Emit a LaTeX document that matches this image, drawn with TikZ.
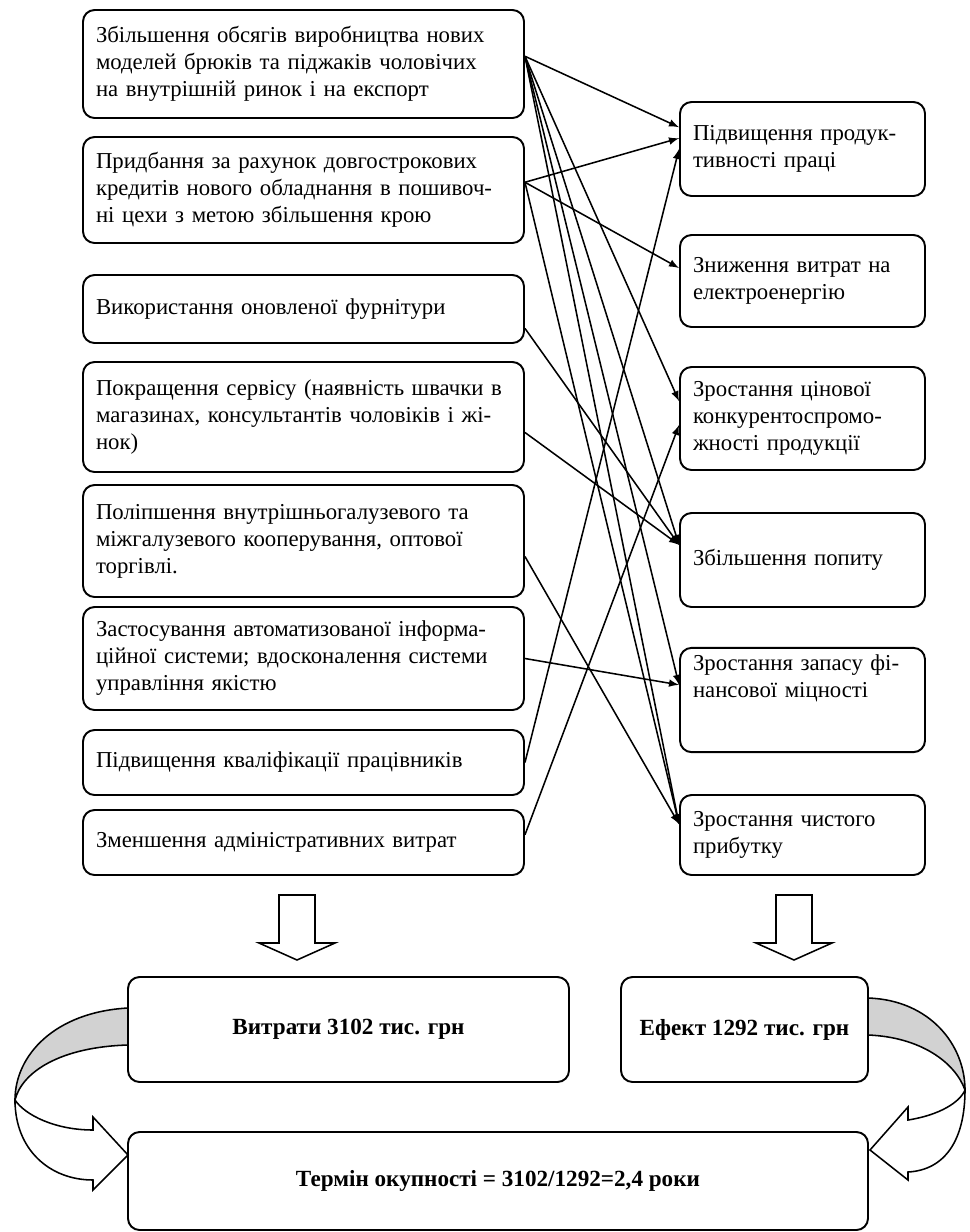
\documentclass[tikz,border=0pt]{standalone}
\usepackage{fontspec}
\setmainfont{Liberation Serif}
\usetikzlibrary{positioning}
\newcommand{\pxl}{0.01822cm}

\tikzset{
  factor/.style={draw, line width=1pt, rounded corners=6pt, align=left,
    inner xsep=13*\pxl, font=\fontsize{11.8}{14}\selectfont},
  leftbox/.style={factor, text width=415*\pxl},
  rightbox/.style={factor, text width=219*\pxl},
  sumbox/.style={draw, line width=1pt, rounded corners=6pt,
    font=\fontsize{12}{14}\selectfont\bfseries},
  conn/.style={->, >=latex, line width=0.8pt},
  hollow/.style={draw, line width=0.8pt, fill=white},
}

\begin{document}
\begin{tikzpicture}[x=\pxl, y=-\pxl]
  \useasboundingbox (0,0) rectangle (969,1232);

  % measures (left column)
  \node[leftbox, minimum height=108*\pxl] (L1) at (303.5,64)
    {Збільшення обсягів виробництва нових\\ моделей брюків та піджаків чоловічих\\ на внутрішній ринок і на експорт};
  \node[leftbox, minimum height=106*\pxl] (L2) at (303.5,190)
    {Придбання за рахунок довгострокових\\ кредитів нового обладнання в пошивоч-\\ні цехи з метою збільшення крою};
  \node[leftbox, minimum height=68*\pxl] (L3) at (303.5,309)
    {Використання оновленої фурнітури};
  \node[leftbox, minimum height=110*\pxl] (L4) at (303.5,417)
    {Покращення сервісу (наявність швачки в\\ магазинах, консультантів чоловіків і жі-\\нок)};
  \node[leftbox, minimum height=112*\pxl] (L5) at (303.5,541)
    {Поліпшення внутрішньогалузевого та\\ міжгалузевого кооперування, оптової\\ торгівлі.};
  \node[leftbox, minimum height=103*\pxl] (L6) at (303.5,658.5)
    {Застосування автоматизованої інформа-\\ційної системи; вдосконалення системи\\ управління якістю};
  \node[leftbox, minimum height=65*\pxl] (L7) at (303.5,762.5)
    {Підвищення кваліфікації працівників};
  \node[leftbox, minimum height=65*\pxl] (L8) at (303.5,842.5)
    {Зменшення адміністративних витрат};

  % results (right column)
  \node[rightbox, minimum height=94*\pxl] (R1) at (802.5,149)
    {Підвищення продук-\\тивності праці};
  \node[rightbox, minimum height=92*\pxl] (R2) at (802.5,281)
    {Зниження витрат на\\ електроенергію};
  \node[rightbox, minimum height=103*\pxl] (R3) at (802.5,418.5)
    {Зростання цінової\\ конкурентоспромо-\\жності продукції};
  \node[rightbox, minimum height=94*\pxl] (R4) at (802.5,560)
    {Збільшення попиту};
  \node[rightbox, minimum height=104*\pxl] (R5) at (802.5,700)
    {Зростання запасу фі-\\нансової міцності\\[7pt]\strut};
  \node[rightbox, minimum height=80*\pxl] (R6) at (802.5,835)
    {Зростання чистого\\ прибутку};

  % links
  \draw[conn] (L1.2) -- (R1.170);
  \draw[conn] (L1.2) -- (R3.172);
  \draw[conn] (L1.2) -- (R4.173);
  \draw[conn] (L1.2) -- (R5.173);
  \draw[conn] (L1.2) -- (R6.175);
  \draw[conn] (L2.2) -- (R1.175);
  \draw[conn] (L2.2) -- (R2.174);
  \draw[conn] (L2.2) -- (R6.175);
  \draw[conn] (L3.355) -- (R4.173);
  \draw[conn] (L4.356) -- (R4.173);
  \draw[conn] (L5.356) -- (R6.175);
  \draw[conn] (L6.east) -- (R5.173);
  \draw[conn] (L7.east) -- (R1.180);
  \draw[conn] (L8.2.5) -- (R3.183);

  % totals
  \node[sumbox, minimum width=441*\pxl, minimum height=105*\pxl] (cost) at (348.5,1029.5)
    {Витрати 3102 тис. грн};
  \node[sumbox, minimum width=247*\pxl, minimum height=105*\pxl] (gain) at (744.5,1029.5)
    {Ефект 1292 тис. грн};
  \node[sumbox, minimum width=740*\pxl, minimum height=98*\pxl] (payback) at (498,1181)
    {Термін окупності = 3102/1292=2,4 роки};

  % hollow arrows down
  \draw[hollow] (279,895) -- (315,895) -- (315,943) -- (335,943) -- (297,960)
    -- (259,943) -- (279,943) -- cycle;
  \draw[hollow] (776,895) -- (812,895) -- (812,943) -- (832,943) -- (794,960)
    -- (756,943) -- (776,943) -- cycle;

  % curved arrows
  \draw[line width=0.8pt, fill=gray!35] (128,1008) .. controls (55,1012) and (15,1055) .. (15,1100)
    .. controls (22,1072) and (60,1047) .. (128,1045) -- cycle;
  \draw[hollow] (15,1100) .. controls (15,1150) and (50,1180) .. (93,1180) -- (93,1190)
    -- (128,1155) -- (93,1117) -- (93,1130) .. controls (55,1130) and (25,1115) .. (15,1100) -- cycle;
  \draw[line width=0.8pt, fill=gray!35] (868,998) .. controls (930,1000) and (965,1045) .. (965,1090)
    .. controls (955,1062) and (920,1037) .. (868,1035) -- cycle;
  \draw[hollow] (965,1090) .. controls (965,1140) and (945,1170) .. (908,1172) -- (908,1180)
    -- (870,1150) -- (908,1107) -- (908,1120) .. controls (940,1115) and (960,1102) .. (965,1090) -- cycle;
\end{tikzpicture}
\end{document}
